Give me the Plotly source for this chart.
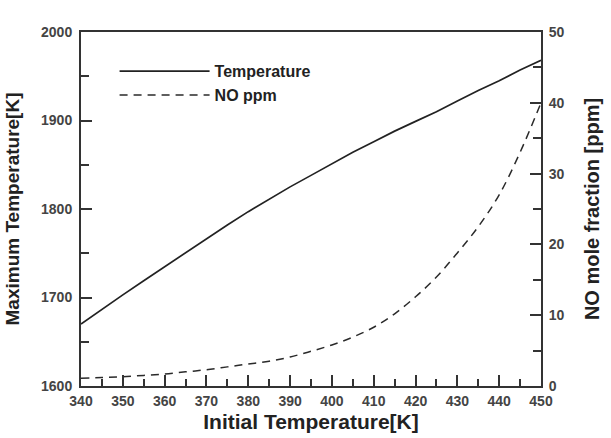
import plotly.graph_objects as go

init_T = [340, 345, 350, 355, 360, 365, 370, 375, 380, 385, 390, 395, 400,
          405, 410, 415, 420, 425, 430, 435, 440, 445, 450]
max_T = [1670, 1687, 1703, 1719, 1735, 1751, 1767, 1782, 1797, 1811, 1825, 1838, 1851,
         1864, 1876, 1888, 1899, 1910, 1922, 1934, 1945, 1957, 1968]
no_ppm = [1.1, 1.2, 1.3, 1.5, 1.7, 2.0, 2.3, 2.7, 3.1, 3.5, 4.1, 4.9, 5.8,
          6.9, 8.3, 10.2, 12.6, 15.4, 18.8, 22.5, 27.0, 33.0, 40.0]

FONT = "Liberation Sans, Arial, sans-serif"
AX = "#333333"

fig = go.Figure()
fig.add_trace(go.Scatter(x=init_T, y=max_T, mode="lines", name="Temperature",
                         line=dict(color="#222222", width=1.7),
                         legendgroup="a"))
fig.add_trace(go.Scatter(x=init_T, y=no_ppm, mode="lines", name="NO ppm", yaxis="y2",
                         line=dict(color="#2a2a2a", width=1.5, dash="8px,6px", shape="spline"),
                         legendgroup="b"))

tickfont = dict(family=FONT, size=14, color="#444444", weight="bold")
fig.update_layout(
    width=611, height=438,
    margin=dict(l=81, r=70, t=32, b=52),
    paper_bgcolor="white", plot_bgcolor="white",
    showlegend=True,
    legend=dict(x=0.073, y=0.937, xanchor="left", yanchor="top",
                itemwidth=90, tracegroupgap=0,
                font=dict(family=FONT, size=16, color="#222222", weight="bold"),
                bgcolor="rgba(0,0,0,0)"),
    xaxis=dict(range=[340, 450], dtick=10, tick0=340, automargin=False,
               showline=True, linecolor=AX, linewidth=2, mirror=True,
               ticks="inside", ticklen=11, tickwidth=1.5, tickcolor=AX,
               minor=dict(ticks="inside", ticklen=7, dtick=5, tickwidth=1.5, tickcolor=AX),
               showgrid=False, zeroline=False, tickfont=tickfont, ticklabelstandoff=1,
               title=dict(text="Initial Temperature[K]", standoff=7,
                          font=dict(family=FONT, size=21, color="#222222", weight="bold"))),
    yaxis=dict(range=[1600, 2000], dtick=100, automargin=False,
               showline=True, linecolor=AX, linewidth=2,
               ticks="inside", ticklen=11, tickwidth=1.5, tickcolor=AX,
               minor=dict(ticks="inside", ticklen=8, dtick=50, tickwidth=1.5, tickcolor=AX),
               showgrid=False, zeroline=False, tickfont=tickfont, ticklabelstandoff=4,
               title=dict(text="Maximum Temperature[K]", standoff=16,
                          font=dict(family=FONT, size=19, color="#222222", weight="bold"))),
    yaxis2=dict(range=[0, 50], dtick=10, overlaying="y", side="right", automargin=False,
                showline=True, linecolor=AX, linewidth=2,
                ticks="inside", ticklen=11, tickwidth=1.5, tickcolor=AX,
                minor=dict(ticks="inside", ticklen=8, dtick=5, tickwidth=1.5, tickcolor=AX),
                showgrid=False, zeroline=False, tickfont=tickfont, ticklabelstandoff=3,
                title=dict(text="NO mole fraction [ppm]", standoff=21,
                           font=dict(family=FONT, size=20, color="#222222", weight="bold"))),
)

fig.write_html("out.html")
